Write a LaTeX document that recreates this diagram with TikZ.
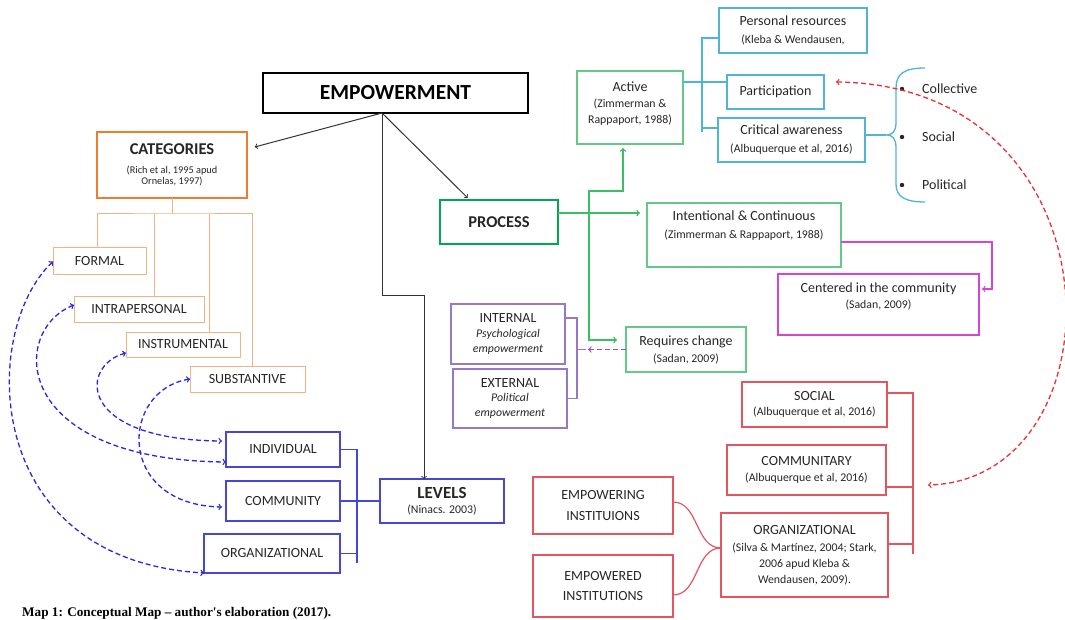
\documentclass[tikz,border=0pt]{standalone}
\usepackage{fontspec}
\setmainfont{Carlito}
\newfontfamily\mapcaptionfont{Liberation Serif}
\usepackage{tikz}

\definecolor{catorange}{RGB}{237,125,49}
\definecolor{lightorange}{RGB}{244,177,131}
\definecolor{levblue}{RGB}{70,70,215}
\definecolor{dashblue}{RGB}{40,40,225}
\definecolor{procgreen}{RGB}{0,166,80}
\definecolor{litegreen}{RGB}{100,200,135}
\definecolor{linkgreen}{RGB}{60,190,100}
\definecolor{skycyan}{RGB}{80,180,215}
\definecolor{magpink}{RGB}{210,70,210}
\definecolor{lilac}{RGB}{150,120,200}
\definecolor{dashpurple}{RGB}{150,80,200}
\definecolor{boxred}{RGB}{230,85,95}
\definecolor{dashred}{RGB}{230,50,50}

\newcommand\refnote{\fontsize{11.8}{13}\selectfont}
\newcommand\catnote{\fontsize{10.3}{12}\selectfont}
\newcommand\headline{\fontsize{16.5}{18}\selectfont\bfseries}

\begin{document}
\begin{tikzpicture} [
          x=1pt, y=-1pt,
          box/.style = {rectangle, inner sep=0pt, outer sep=0pt, align=center, text=black!85, font=\fontsize{14}{18}\selectfont},
          empbox/.style = {box, draw=black, line width=2.2pt, text=black, font=\fontsize{21.5}{24}\selectfont\bfseries},
          catbox/.style = {box, draw=catorange, line width=2.4pt},
          kindbox/.style = {box, draw=lightorange, line width=1pt},
          levelbox/.style = {box, draw=levblue, line width=1.2pt},
          procbox/.style = {box, draw=procgreen, line width=2.4pt},
          greenbox/.style = {box, draw=litegreen, line width=1.1pt},
          cyanbox/.style = {box, draw=skycyan, line width=1.1pt},
          pinkbox/.style = {box, draw=magpink, line width=1.1pt},
          lilacbox/.style = {box, draw=lilac, line width=1.1pt},
          redbox/.style = {box, draw=boxred, line width=1.1pt},
          itemtext/.style = {anchor=west, inner sep=0pt, text=black!85, font=\fontsize{14}{17}\selectfont},
          mainlink/.style = {draw=black!80, line width=1pt},
          kindline/.style = {draw=lightorange, line width=1pt},
          levelline/.style = {draw=levblue, line width=1.2pt},
          bluedash/.style = {draw=dashblue, line width=1.3pt, dash pattern=on 5pt off 3pt},
          greenline/.style = {draw=linkgreen, line width=1.4pt},
          cyanline/.style = {draw=skycyan, line width=1.3pt},
          pinkline/.style = {draw=magpink, line width=1.3pt},
          lilacline/.style = {draw=lilac, line width=1.2pt},
          lilacdash/.style = {draw=dashpurple, line width=1.3pt, dash pattern=on 5pt off 3pt},
          redline/.style = {draw=boxred, line width=1.2pt},
          reddash/.style = {draw=dashred, line width=1.3pt, dash pattern=on 5pt off 3pt}
          ]
  \useasboundingbox (0,0) rectangle (1065,620);

  \node[empbox, minimum width=265pt, minimum height=40pt] (emp) at (395.5,93) {EMPOWERMENT};

  \node[catbox, minimum width=150pt, minimum height=66pt] (cat) at (172,165)
    {{\headline CATEGORIES}\\[1pt]{\catnote (Rich et al, 1995 apud}\\[-6.5pt]{\catnote Ornelas, 1997)}};
  \node[kindbox, minimum width=93pt, minimum height=27pt] (formal) at (99.5,261.5) {FORMAL};
  \node[kindbox, minimum width=130pt, minimum height=26pt] (intra) at (139,309) {INTRAPERSONAL};
  \node[kindbox, minimum width=114pt, minimum height=25pt] (instr) at (183,344.5) {INSTRUMENTAL};
  \node[kindbox, minimum width=115pt, minimum height=26pt] (subst) at (247.5,379) {SUBSTANTIVE};

  \node[levelbox, minimum width=114pt, minimum height=35pt] (indiv) at (283,449.5) {INDIVIDUAL};
  \node[levelbox, minimum width=114pt, minimum height=40pt] (commu) at (283,501) {COMMUNITY};
  \node[levelbox, minimum width=136pt, minimum height=39pt] (orgl) at (272,553.5) {ORGANIZATIONAL};
  \node[levelbox, minimum width=124pt, minimum height=44pt] (levels) at (442,501)
    {{\fontsize{17}{18}\selectfont\bfseries LEVELS}\\[-3pt]{\refnote (Ninacs. 2003)}};

  \node[procbox, minimum width=118pt, minimum height=44pt] (process) at (499,222) {\headline PROCESS};
  \node[greenbox, minimum width=106pt, minimum height=73pt] (active) at (630,107.5)
    {Active\\[-2pt]{\refnote (Zimmerman \&}\\[-2pt]{\refnote Rappaport, 1988)}\\[-8pt]\mbox{}};
  \node[greenbox, minimum width=194pt, minimum height=64pt] (intent) at (744,235)
    {Intentional \& Continuous\\{\refnote (Zimmerman \& Rappaport, 1988)}\\[3pt]\mbox{}};
  \node[greenbox, minimum width=120pt, minimum height=45pt] (requires) at (686,349.5)
    {Requires change\\[-1pt]{\refnote (Sadan, 2009)}};

  \node[cyanbox, minimum width=148pt, minimum height=45pt] (personal) at (793,30.5)
    {Personal resources\\{\refnote (Kleba \& Wendausen,}};
  \node[cyanbox, minimum width=97pt, minimum height=34pt] (partic) at (775.5,92) {Participation};
  \node[cyanbox, minimum width=147pt, minimum height=44pt] (critical) at (791.5,140)
    {Critical awareness\\{\refnote (Albuquerque et al, 2016)}};

  \node[pinkbox, minimum width=201pt, minimum height=61pt] (centered) at (878.5,304.5)
    {Centered in the community\\[-2pt]{\refnote (Sadan, 2009)}\\[-1pt]\mbox{}};

  \node[lilacbox, minimum width=114pt, minimum height=60pt] (internal) at (508,334)
    {INTERNAL\\[-3.5pt]{\refnote\itshape Psychological}\\[-3pt]{\refnote\itshape empowerment}};
  \node[lilacbox, minimum width=114pt, minimum height=59pt] (external) at (510,398.5)
    {EXTERNAL\\[-3.5pt]{\refnote\itshape Political}\\[-3pt]{\refnote\itshape empowerment}};

  \node[redbox, minimum width=145pt, minimum height=45pt] (social) at (814.5,404.5)
    {SOCIAL\\[-3pt]{\refnote (Albuquerque et al, 2016)}};
  \node[redbox, minimum width=159pt, minimum height=50pt] (communitary) at (806.5,470)
    {COMMUNITARY\\[-2pt]{\refnote (Albuquerque et al, 2016)}};
  \node[redbox, minimum width=167pt, minimum height=84pt] (organiz) at (804.5,555)
    {ORGANIZATIONAL\\[-1pt]{\refnote (Silva \& Martínez, 2004; Stark,}\\[-2pt]{\refnote 2006 apud Kleba \&}\\[-2pt]{\refnote Wendausen, 2009).}};
  \node[redbox, minimum width=140pt, minimum height=57pt] (empowering) at (603,505.5) {EMPOWERING\\[3pt]INSTITUIONS};
  \node[redbox, minimum width=140pt, minimum height=62pt] (empowered) at (603,586) {EMPOWERED\\[2pt]INSTITUTIONS};

  \node[itemtext] (collective) at (922,89) {Collective};
  \node[itemtext] (socialitem) at (922,137) {Social};
  \node[itemtext] (political) at (922,185) {Political};
  \fill[black!85] (902,89) circle (2.2) (902,137) circle (2.2) (902,185) circle (2.2);

  \node[anchor=base west, inner sep=0pt, font=\mapcaptionfont\bfseries\fontsize{13.2}{15}\selectfont] (caption) at (22,616)
    {Map 1: Conceptual Map – author's elaboration (2017).};

  \draw[mainlink, ->, shorten >=8pt] (emp.236) -- (cat.12);
  \draw[mainlink, ->, shorten >=3pt] (emp.236) -- (process.143);
  \draw[mainlink, ->] (emp.236) -- ++(0,182) -| ([xshift=-18pt]levels.north);

  \draw[kindline] (cat.south) -- ++(0,16) coordinate (catfork);
  \draw[kindline] ([xshift=-2.5pt]formal.north) |- (catfork) -| ([xshift=4.5pt]subst.north);
  \draw[kindline] ([xshift=15pt]intra.north) -- ([xshift=15pt]intra.north |- catfork);
  \draw[kindline] ([xshift=26pt]instr.north) -- ([xshift=26pt]instr.north |- catfork);

  \draw[bluedash, <->] (formal.west) .. controls (-20,330) and (-20,560) .. (orgl.south west);
  \draw[bluedash, <->] ([yshift=4pt]intra.west) .. controls (10,330) and (10,460) .. ([yshift=-12.5pt]indiv.west);
  \draw[bluedash, <->] ([yshift=-8.5pt]instr.west) .. controls (80,365) and (75,440) .. ([xshift=-4pt, yshift=8.5pt]indiv.west);
  \draw[bluedash, <->] (subst.west) .. controls (120,390) and (115,505) .. ([xshift=-4pt, yshift=-6pt]commu.west);

  \draw[levelline] (indiv.east) -- ++(17,0) -- ++(0,113);
  \draw[levelline] (commu.east) -- (levels.west);
  \draw[levelline] (orgl.east) -- ++(17,0);

  \coordinate (gtrunk) at (589,191);
  \draw[greenline, ->, shorten >=7pt] ([yshift=9pt]process.east) -- ([yshift=22pt]intent.west);
  \draw[greenline, <->, shorten <=4pt, shorten >=9pt] ([xshift=-7pt]active.south) |- (gtrunk) |- ([yshift=9.5pt]requires.west);

  \draw[lilacline] ([yshift=16pt]internal.east) -- ++(12,0) coordinate (lilacfork) |- (external.east);
  \draw[lilacline] (lilacfork |- requires.west) -- ++(9,0) coordinate (lilactip);
  \draw[lilacdash, ->] (requires.west) -- ([xshift=2pt]lilactip);

  \draw[cyanline] ([yshift=25.5pt]active.east) -- ([yshift=10pt]partic.west);
  \draw[cyanline] ([yshift=-7.5pt]personal.west) -- ++(-17,0) -- ++(0,94);
  \draw[cyanline] ([yshift=12pt]critical.west) -- ++(-16,0);
  \coordinate (bracetip) at (886,135);
  \draw[cyanline] ([yshift=5pt]critical.east) -- (bracetip);
  \draw[cyanline] (925,68) .. controls (904,68) and (896,74) .. (896,88) -- (896,122)
    .. controls (896,131) and (893,135) .. (bracetip) .. controls (893,135) and (896,139) .. (896,148)
    -- (896,184) .. controls (896,196) and (904,202) .. (925,202);

  \draw[pinkline, ->, shorten >=3pt] ([yshift=-7pt]intent.east) -- ++(151,0) |- ([yshift=15.5pt]centered.east);

  \draw[redline] ([yshift=11.5pt]social.east) -- ++(26,0) -- ++(0,161);
  \draw[redline] ([yshift=-17pt]communitary.east) -- ++(27,0);
  \draw[redline] ([yshift=11pt]organiz.east) -- ++(25,0);
  \coordinate (redgoal) at (928,485);
  \draw[reddash, <->] ([xshift=12pt, yshift=10pt]partic.east) .. controls (1125,85) and (1125,480) .. (redgoal);
  \draw[redline] ([yshift=3.5pt]empowering.east) to[out=0, in=180] ([yshift=7pt]organiz.west);
  \draw[redline] ([yshift=-9pt]empowered.east) to[out=0, in=180] ([yshift=7pt]organiz.west);
\end{tikzpicture}
\end{document}
